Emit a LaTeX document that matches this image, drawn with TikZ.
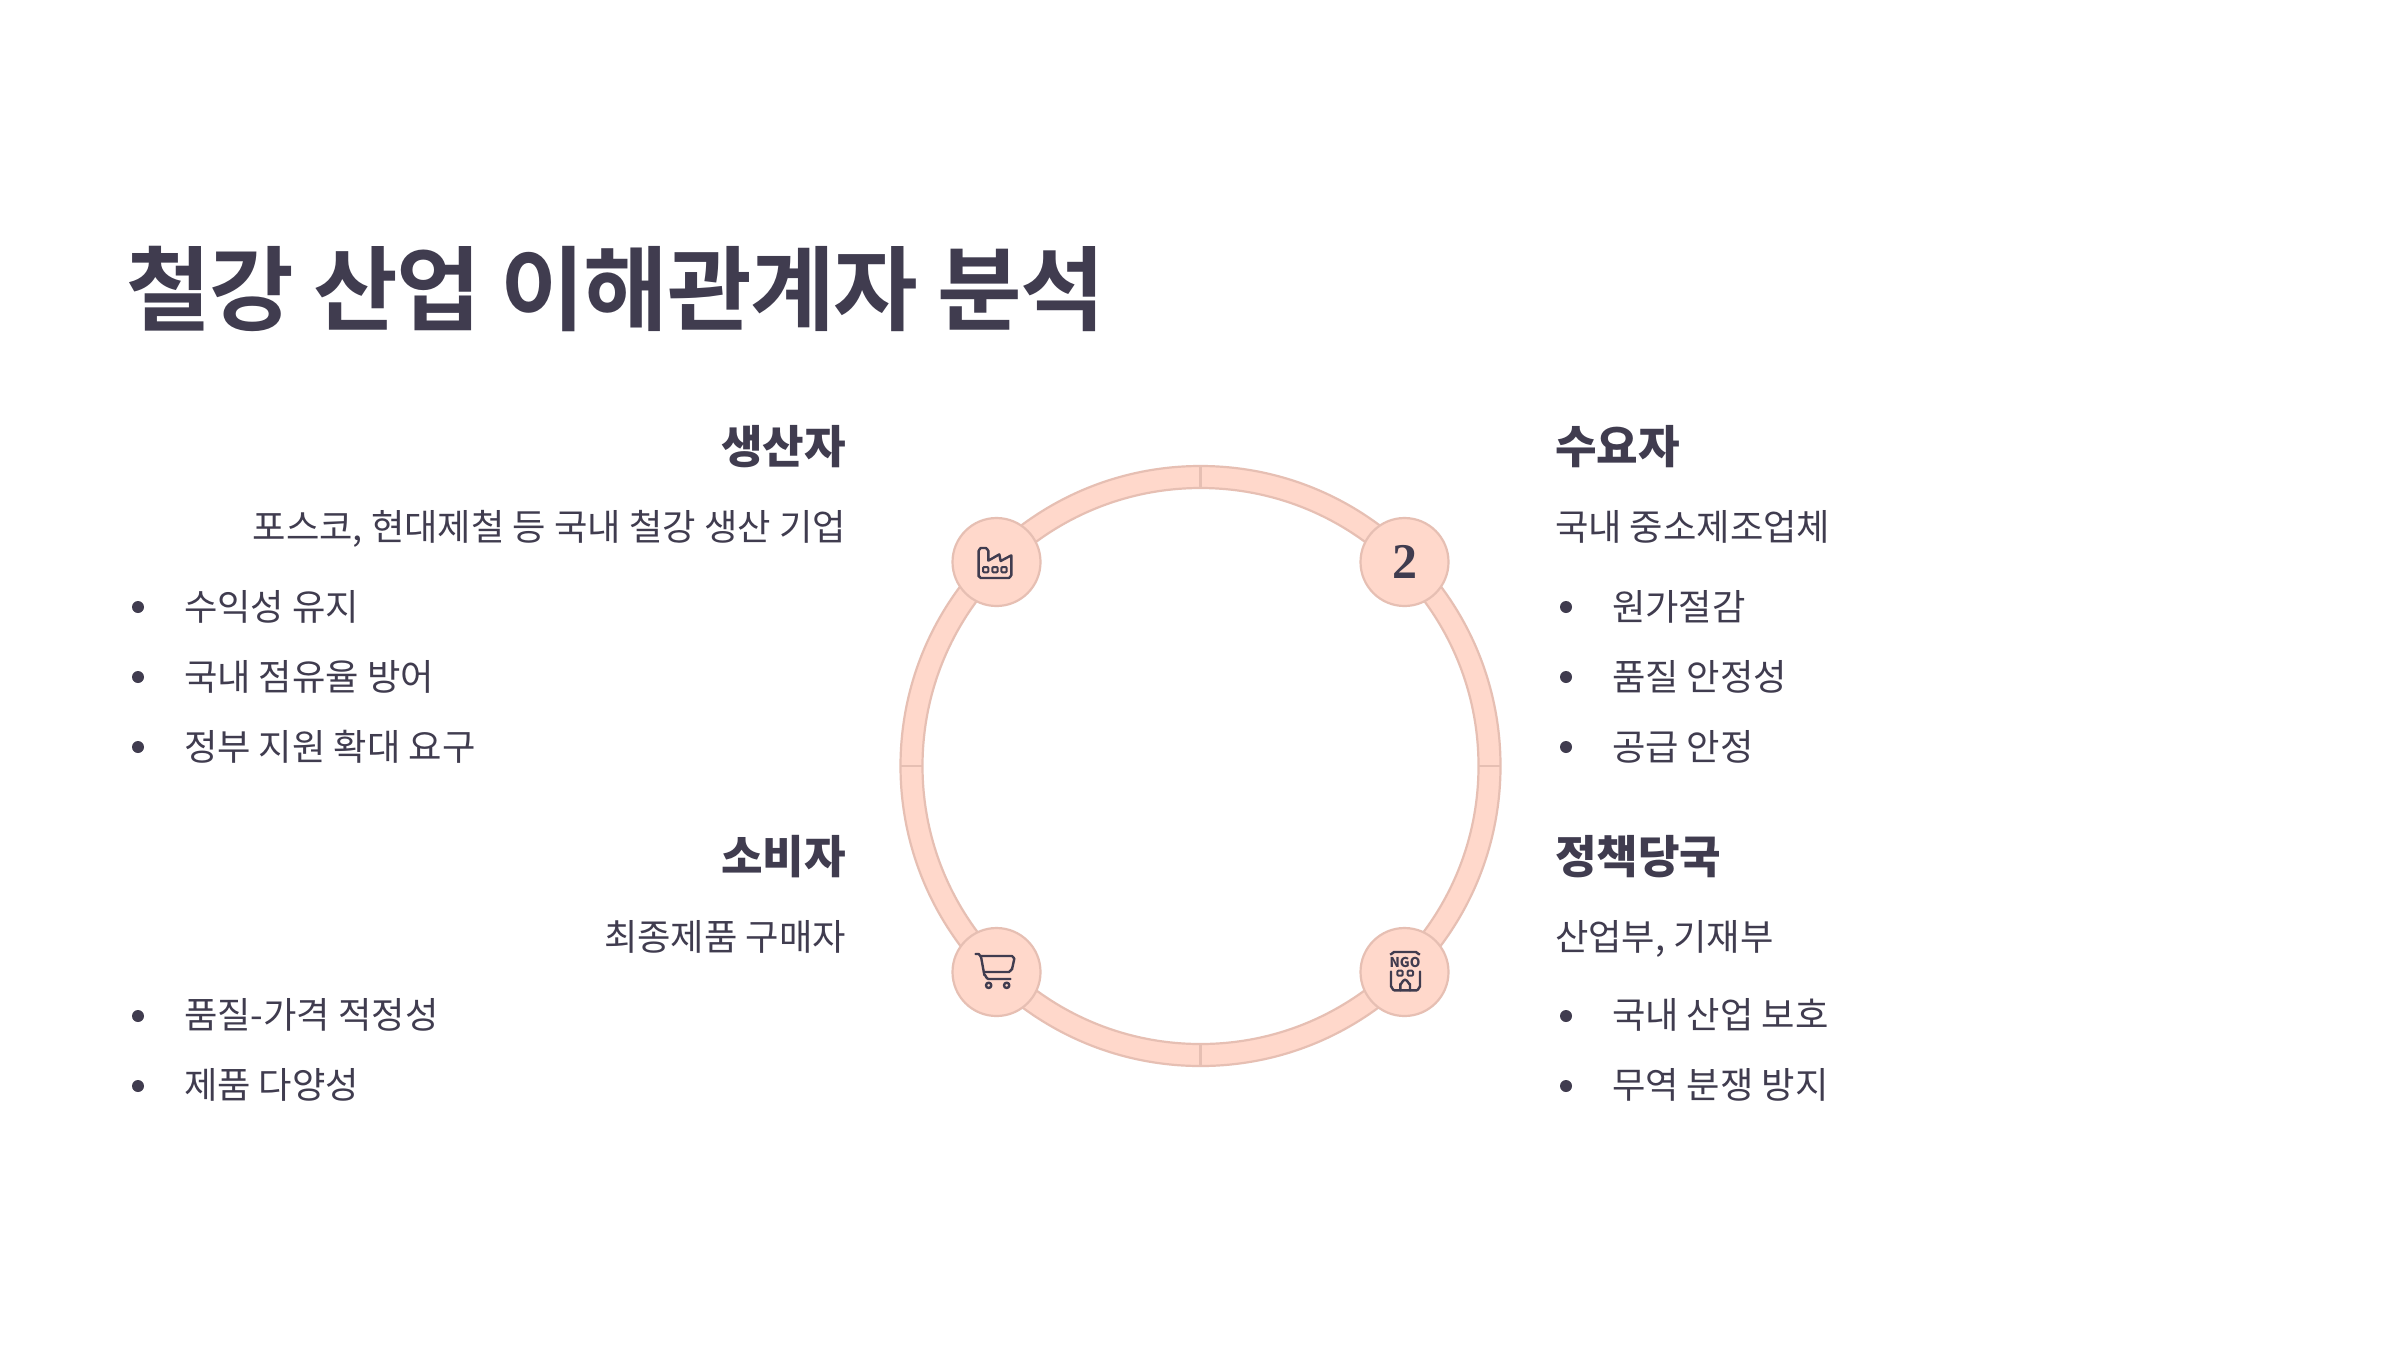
\documentclass[tikz,border=0pt]{standalone}
\usepackage{fontspec}
\usetikzlibrary{calc}
\setmainfont{Noto Sans CJK KR}
\newfontfamily\titlefont[LetterSpace=-1.65,BoldFont={Noto Sans CJK KR Bold}]{Noto Sans CJK KR}
\newfontfamily\numfont{Liberation Serif}
\definecolor{ink}{HTML}{403C4F}
\definecolor{ringfill}{HTML}{FFD8CB}
\definecolor{ringline}{HTML}{E6BFB3}
\tikzset{
  every node/.style={inner sep=0pt,outer sep=0pt,text=ink},
  titletext/.style={anchor=base west,font=\fontsize{92}{100}\selectfont\titlefont\bfseries},
  headl/.style={anchor=base east,font=\fontsize{45.2}{50}\selectfont\bfseries},
  headr/.style={anchor=base west,font=\fontsize{45.2}{50}\selectfont\bfseries},
  subl/.style={anchor=base east,font=\fontsize{36.3}{42}\selectfont},
  subr/.style={anchor=base west,font=\fontsize{36.3}{42}\selectfont},
  item/.style={anchor=base west,font=\fontsize{36.3}{42}\selectfont},
  dotmark/.style={circle,fill=ink,minimum size=12pt},
  badge/.style={circle,fill=ringfill,draw=ringline,line width=2.2pt,minimum size=88pt},
  icon/.style={draw=ink,line width=2.4pt,line cap=round,line join=round,fill=none},
}
\begin{document}
\begin{tikzpicture}[x=1pt,y=-1pt]
\useasboundingbox (0,0) rectangle (2400,1350);
\fill[white] (0,0) rectangle (2400,1350);

\node[titletext] (title) at (126.5,323.5) {철강 산업 이해관계자 분석};

% left column
\node[headl] (h1) at (846,463.5) {생산자};
\node[subl] (s1) at (846,540) {포스코, 현대제철 등 국내 철강 생산 기업};
\node[dotmark] (d11) at (138,607) {};
\node[item] (t11) at (184,620) {수익성 유지};
\node[dotmark] (d12) at (138,677) {};
\node[item] (t12) at (184,690) {국내 점유율 방어};
\node[dotmark] (d13) at (138,747) {};
\node[item] (t13) at (184,760) {정부 지원 확대 요구};

\node[headl] (h3) at (846,873.5) {소비자};
\node[subl] (s3) at (846,950) {최종제품 구매자};
\node[dotmark] (d31) at (138,1016) {};
\node[item] (t31) at (184,1028) {품질-가격 적정성};
\node[dotmark] (d32) at (138,1086) {};
\node[item] (t32) at (184,1098) {제품 다양성};

% right column
\node[headr] (h2) at (1555,463.5) {수요자};
\node[subr] (s2) at (1555,540) {국내 중소제조업체};
\node[dotmark] (d21) at (1566,607) {};
\node[item] (t21) at (1612,620) {원가절감};
\node[dotmark] (d22) at (1566,677) {};
\node[item] (t22) at (1612,690) {품질 안정성};
\node[dotmark] (d23) at (1566,747) {};
\node[item] (t23) at (1612,760) {공급 안정};

\node[headr] (h4) at (1555,873.5) {정책당국};
\node[subr] (s4) at (1555,950) {산업부, 기재부};
\node[dotmark] (d41) at (1566,1016) {};
\node[item] (t41) at (1612,1028) {국내 산업 보호};
\node[dotmark] (d42) at (1566,1086) {};
\node[item] (t42) at (1612,1098) {무역 분쟁 방지};

% ring
\coordinate (c) at (1200.5,766);
\fill[ringfill,even odd rule] (c) circle[radius=300] (c) circle[radius=278];
\draw[ringline,line width=2.2pt] (c) circle[radius=300];
\draw[ringline,line width=2.2pt] (c) circle[radius=278];
\foreach \a in {0,90,180,270}
  \draw[ringline,line width=2.2pt] ($(c)+(\a:278)$) -- ($(c)+(\a:300)$);

% badges
\node[badge] (b1) at (996.5,562) {};
\node[badge] (b2) at (1404.5,562) {};
\node[badge] (b3) at (996.5,972) {};
\node[badge] (b4) at (1404.5,972) {};

% "2"
\node[font=\fontsize{50}{54}\selectfont\numfont\bfseries] (two) at (b2) {2};

% factory icon
\begin{scope}[shift={(940,510)},x=0.3333pt,y=-0.3333pt]
  \draw[icon] (116,200) -- (116,122) to[out=-90,in=180] (122,114) -- (138,114) to[out=0,in=-90] (145,122) -- (145,152) -- (178,133) -- (182,153) -- (214,136) -- (214,196) to[out=90,in=0] (207,204) -- (122,204) to[out=180,in=90] (116,196) -- cycle;
  \foreach \x in {137,165,192}
    \draw[icon,rounded corners=1pt,line width=2pt] (\x-8,171) rectangle (\x+8,187);
\end{scope}

% cart icon
\begin{scope}[shift={(940,920)},x=0.3333pt,y=-0.3333pt]
  \draw[icon] (107,102) -- (116,102) to[out=0,in=-100] (123,110) -- (133,165) to[out=80,in=180] (145,177) -- (211,177);
  \draw[icon] (124,108) -- (216,108) to[out=0,in=-80] (223,116) -- (216,148) to[out=100,in=0] (207,156) -- (134,156);
  \draw[icon] (146,196) circle[radius=8];
  \draw[icon] (200,196) circle[radius=8];
\end{scope}

% NGO icon
\begin{scope}[shift={(1350,920)},x=0.3333pt,y=-0.3333pt]
  \draw[icon] (122,102) to[out=-70,in=180] (132,96) -- (198,96) to[out=0,in=-110] (208,102);
  \draw[icon] (123,155) -- (123,200) to[out=90,in=180] (133,211) -- (200,211) to[out=0,in=90] (210,200) -- (210,155);
  \draw[icon,rounded corners=1pt,line width=2pt] (142,152) rectangle (158,167);
  \draw[icon,rounded corners=1pt,line width=2pt] (173,152) rectangle (189,167);
  \draw[icon] (151,211) -- (151,192) to[out=-90,in=180] (165,179) to[out=0,in=-90] (180,192) -- (180,211);
\end{scope}
\node[font=\fontsize{13.5}{14}\selectfont\bfseries] (ngo) at (1405,962) {NGO};
\end{tikzpicture}
\end{document}
